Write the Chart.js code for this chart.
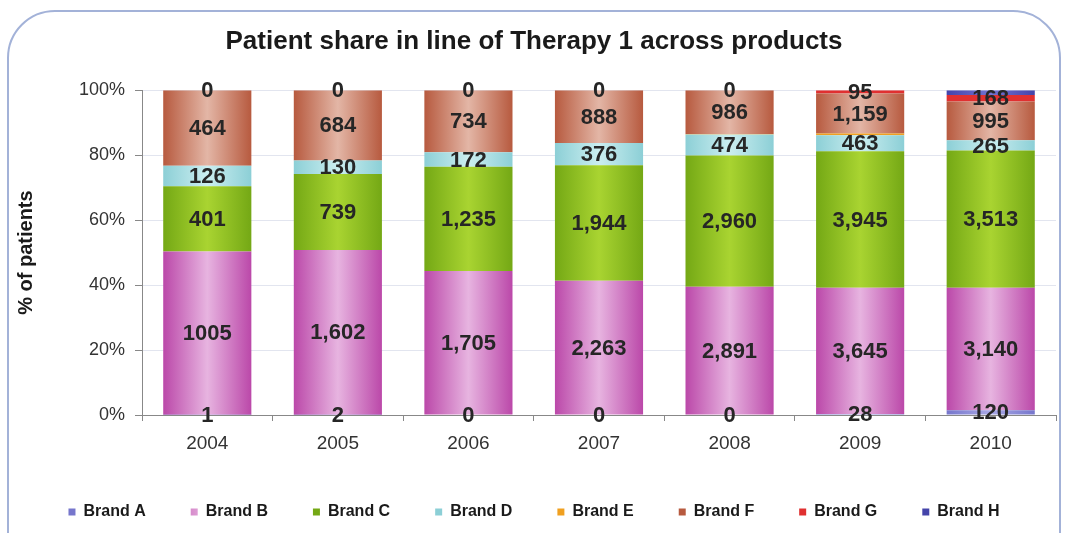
<html>
<head>
    <script src="https://cdn.jsdelivr.net/npm/chart.js@4.4.1/dist/chart.umd.min.js"></script>
    <style>
        body { margin: 0; background: #fff; }
        #frame { position: absolute; left: 7px; top: 10px; width: 1050px; height: 570px;
                 border: 2px solid #a3b2d8; border-radius: 48px; }
        #wrap { position: absolute; left: 0; top: 0; width: 1065px; height: 533px; }
    </style>
</head>
<body>
    <div id="frame"></div>
    <div id="wrap"><canvas id="myChart"></canvas></div>
    <script>
        const years = ['2004', '2005', '2006', '2007', '2008', '2009', '2010']
        const brandA = [1, 2, 0, 0, 0, 28, 120]
        const brandB = [1005, 1602, 1705, 2263, 2891, 3645, 3140]
        const brandC = [401, 739, 1235, 1944, 2960, 3945, 3513]
        const brandD = [126, 130, 172, 376, 474, 463, 265]
        const brandE = [0, 0, 0, 0, 15, 45, 0]
        const brandF = [464, 684, 734, 888, 986, 1159, 995]
        const brandG = [0, 0, 0, 0, 0, 95, 168]
        const brandH = [0, 0, 0, 0, 0, 0, 120]
        const yTicks = [0, 20, 40, 60, 80, 100]

        const FONT = "'Liberation Sans', Arial, sans-serif"

        const all = [brandA, brandB, brandC, brandD, brandE, brandF, brandG, brandH]
        const totals = years.map((y, j) => all.reduce((s, arr) => s + arr[j], 0))
        const pct = arr => arr.map((v, j) => v / totals[j] * 100)

        // horizontal shading across each bar, like the original cylinder look
        function barFill(base, light) {
            return ctx => {
                const chart = ctx.chart
                const x = chart.scales && chart.scales.x
                if (!chart.chartArea || !x || ctx.dataIndex === undefined) return base
                const cx = x.getPixelForValue(ctx.dataIndex)
                const w = (chart.chartArea.right - chart.chartArea.left) / years.length * 0.675
                const g = chart.ctx.createLinearGradient(cx - w / 2, 0, cx + w / 2, 0)
                g.addColorStop(0, base)
                g.addColorStop(0.5, light)
                g.addColorStop(1, base)
                return g
            }
        }

        function makeSet(label, raw, base, light, showLabel) {
            return {
                label: label,
                data: pct(raw),
                raw: raw,
                showLabel: showLabel,
                backgroundColor: light ? barFill(base, light) : base,
                borderWidth: 0,
                categoryPercentage: 1,
                barPercentage: 0.675
            }
        }

        const valueLabels = {
            id: 'valueLabels',
            afterDatasetsDraw(chart) {
                const c = chart.ctx
                c.save()
                c.font = "bold 22px " + FONT
                c.fillStyle = '#262626'
                c.textAlign = 'center'
                c.textBaseline = 'middle'
                chart.data.datasets.forEach((ds, i) => {
                    if (!ds.showLabel) return
                    chart.getDatasetMeta(i).data.forEach((bar, j) => {
                        const v = ds.raw[j]
                        const txt = j === 0 ? String(v) : v.toLocaleString('en-US')
                        c.fillText(txt, bar.x, (bar.y + bar.base) / 2 + 1)
                    })
                })
                c.restore()
            }
        }

        const ctx = document.getElementById('myChart').getContext('2d')
        const myChart = new Chart(ctx, {
            type: 'bar',
            data: {
                labels: years,
                datasets: [
                    makeSet('Brand A', brandA, '#7676cc', '#a9a9e6', true),
                    makeSet('Brand B', brandB, '#bb48a9', '#e7b4e0', true),
                    makeSet('Brand C', brandC, '#74a815', '#a9d431', true),
                    makeSet('Brand D', brandD, '#8ccfd6', '#cbeef0', true),
                    makeSet('Brand E', brandE, '#f0a020', null, false),
                    makeSet('Brand F', brandF, '#b75a3f', '#e3b6a6', true),
                    makeSet('Brand G', brandG, '#e03030', null, true),
                    makeSet('Brand H', brandH, '#4444aa', '#7272d2', false)
                ]
            },
            options: {
                responsive: true,
                maintainAspectRatio: false,
                animation: false,
                layout: { padding: { left: 12, right: 9, top: 0, bottom: 3 } },
                plugins: {
                    title: {
                        display: true,
                        text: 'Patient share in line of Therapy 1 across products',
                        color: '#1a1a1a',
                        font: { family: FONT, size: 26, weight: 'bold' },
                        padding: { top: 26, bottom: 33 }
                    },
                    legend: {
                        position: 'bottom',
                        labels: {
                            boxWidth: 7,
                            boxHeight: 7,
                            padding: 45,
                            color: '#1a1a1a',
                            font: { family: FONT, size: 16, weight: 'bold' }
                        }
                    },
                    tooltip: { enabled: false }
                },
                scales: {
                    x: {
                        stacked: true,
                        afterFit: s => { s.height = 44 },
                        grid: { display: true, drawOnChartArea: false, tickLength: 6, color: '#888' },
                        border: { color: '#888' },
                        ticks: { color: '#333', padding: 11, font: { family: FONT, size: 19 } }
                    },
                    y: {
                        stacked: true,
                        min: 0,
                        max: 100,
                        afterFit: s => { s.width = 130 },
                        afterBuildTicks: s => { s.ticks = yTicks.map(v => ({ value: v })) },
                        grid: { color: '#e2e5ef', tickColor: '#888', tickLength: 7 },
                        border: { color: '#888' },
                        ticks: {
                            color: '#333',
                            padding: 10,
                            font: { family: FONT, size: 18 },
                            callback: v => v + '%'
                        },
                        title: {
                            display: true,
                            text: '% of patients',
                            color: '#1a1a1a',
                            padding: 2,
                            font: { family: FONT, size: 20, weight: 'bold' }
                        }
                    }
                }
            },
            plugins: [valueLabels]
        })
    </script>
</body>
</html>
